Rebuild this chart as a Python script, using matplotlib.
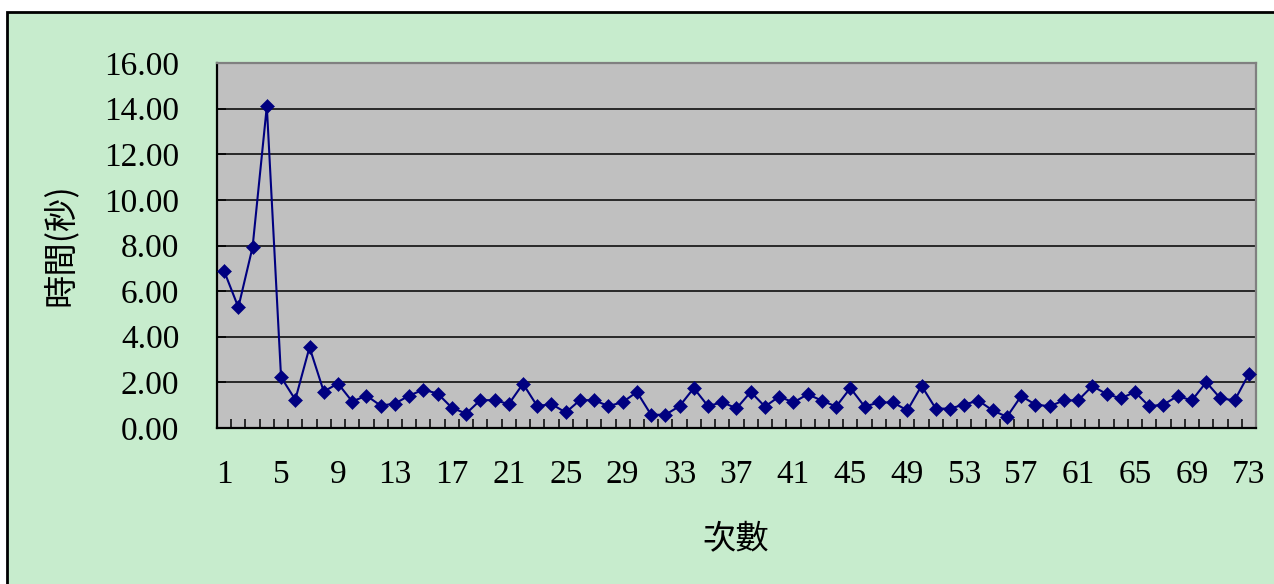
import numpy as np
import matplotlib
matplotlib.use("Agg")
import matplotlib.pyplot as plt
from matplotlib.patches import Rectangle

# 每次的時間(秒)
trial = np.arange(1, 74)
seconds = [6.88, 5.29, 7.93, 14.10, 2.23, 1.24, 3.54, 1.60, 1.95, 1.16,
           1.42, 0.98, 1.07, 1.42, 1.68, 1.51, 0.89, 0.63, 1.22, 1.22,
           1.05, 1.94, 0.96, 1.05, 0.68, 1.22, 1.22, 0.96, 1.13, 1.58,
           0.58, 0.58, 0.96, 1.75, 0.96, 1.13, 0.86, 1.58, 0.94, 1.38,
           1.12, 1.48, 1.20, 0.94, 1.75, 0.94, 1.12, 1.12, 0.77, 1.85,
           0.85, 0.85, 1.03, 1.20, 0.77, 0.49, 1.40, 1.03, 0.95, 1.21,
           1.21, 1.84, 1.49, 1.30, 1.58, 0.95, 1.03, 1.40, 1.21, 2.01,
           1.30, 1.21, 2.37]
x_labels = trial[::4]
y_ticks = np.arange(0, 17, 2)

cjk = ['Noto Sans CJK TC', 'DejaVu Sans']
num_font = 'Liberation Serif'
green = '#C7ECCD'

fig = plt.figure(figsize=(12.74, 5.84), dpi=100)
fig.patch.set_facecolor('white')
# 外框
fig.patches.append(Rectangle((7 / 1274, -0.1), 1.2, 0.1 + 572 / 584,
                             transform=fig.transFigure, facecolor=green,
                             edgecolor='black', linewidth=2, zorder=-10))

ax = fig.add_axes([217 / 1274, 156 / 584, 1039 / 1274, 365 / 584])
ax.set_facecolor('#C0C0C0')

ax.plot(trial, seconds, color='#000080', linewidth=1.5, marker='D',
        markersize=7.4, markeredgewidth=0.4, zorder=3, clip_on=False)

ax.set_xlim(0.5, 73.5)
ax.set_ylim(0, 16)

# 水平格線
for v in y_ticks[1:-1]:
    ax.axhline(v, color='black', linewidth=1.1, zorder=1)

ax.set_yticks(y_ticks)
ax.set_yticklabels([f'{v:.2f}' for v in y_ticks], fontfamily=num_font,
                   fontsize=24)
ax.set_xticks(x_labels)
ax.set_xticklabels([str(v) for v in x_labels], fontfamily=num_font,
                   fontsize=24)
ax.set_xticks(np.arange(1.5, 73, 1), minor=True)

ax.tick_params(axis='y', direction='in', length=6.5, width=1.1, pad=27)
ax.tick_params(axis='x', which='major', length=0, pad=22.5)
ax.tick_params(axis='x', which='minor', direction='in', length=6.5,
               width=1.1)

for side in ('left', 'bottom'):
    ax.spines[side].set_color('black')
    ax.spines[side].set_linewidth(1.6)
for side in ('top', 'right'):
    ax.spines[side].set_color('#808080')
    ax.spines[side].set_linewidth(1.6)

fig.text(60 / 1274, 1 - 245 / 584, '時間(秒)', rotation=90, ha='center',
         va='center', fontsize=24, family=cjk)
fig.text(736 / 1274, 1 - 540 / 584, '次數', ha='center', va='center',
         fontsize=24, family=cjk)

fig.savefig('out.png', dpi=100, facecolor=fig.get_facecolor())
